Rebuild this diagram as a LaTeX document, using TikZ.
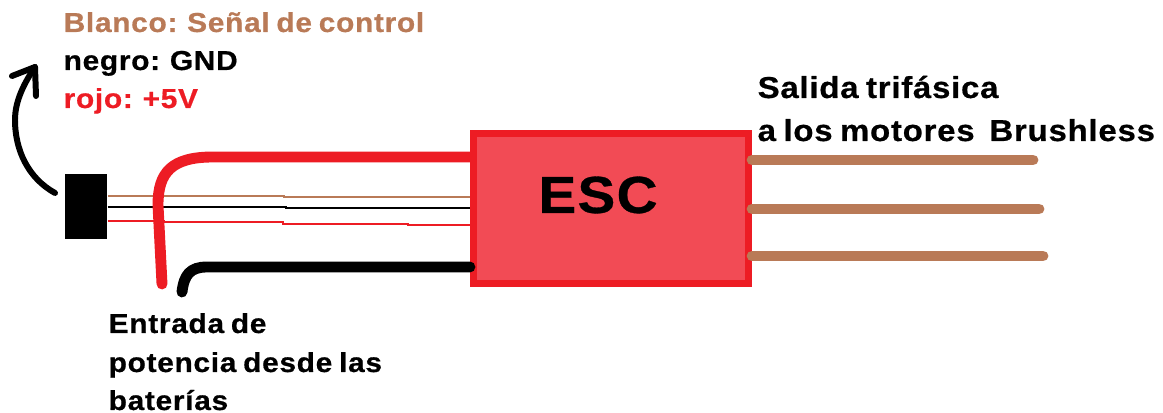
\documentclass[tikz,border=0pt]{standalone}
\usepackage{fontspec}
\setmainfont{Liberation Sans}[BoldFeatures={FakeBold=0.6,FakeStretch=1.09},LetterSpace=2.5,WordSpace=0.75]
\usepackage{tikz}
\definecolor{escred}{HTML}{ED1C24}
\definecolor{escfill}{HTML}{F24B55}
\definecolor{wirebrown}{HTML}{B97A57}
\tikzset{
  label/.style={anchor=base west, inner sep=0pt, font=\fontsize{7.8pt}{9pt}\bfseries},
  big label/.style={label, font=\fontsize{8.6pt}{10pt}\bfseries},
  thick wire/.style={line width=3.1pt, line cap=round},
  thin wire/.style={line width=0.45pt},
}

\begin{document}
\begin{tikzpicture}[x=0.01cm, y=-0.01cm]
\useasboundingbox (0,0) rectangle (1163,413);
\node[draw=escred, fill=escfill, line width=2pt, minimum width=2.75cm, minimum height=1.5cm, inner sep=0pt] (esc) at (611,208.5) {};
\node[fill=black, minimum width=0.42cm, minimum height=0.65cm, inner sep=0pt] (conn) at (86,206.5) {};
\node[anchor=center, inner sep=0pt, font=\fontsize{14.8pt}{18pt}\bfseries] (esclabel) at (598,195) {ESC};
% signal wires
\draw[thin wire, wirebrown] (conn.east |- 0,196) -- (284,196) -- (284,197) -- (esc.west |- 0,197);
\draw[thin wire, black] (conn.east |- 0,207) -- (286,207) -- (286,208) -- (esc.west |- 0,208);
\draw[thin wire, escred] (conn.east |- 0,221) -- (164,221) -- (164,222) -- (283,222) -- (283,224) -- (408,224) -- (408,225) -- (esc.west |- 0,225);
% power input
\coordinate (redend) at (162,284);
\coordinate (blackend) at (182,292);
\draw[thick wire, escred] (esc.west |- 0,157) -- (213,157) .. controls (172,157) and (158,172) .. (158,205) -- (redend);
\draw[thick wire, black] (esc.west |- 0,267) -- (207,267) .. controls (190,267) and (184,275) .. (blackend);
% motor outputs
\coordinate (out1) at (1033,160);
\coordinate (out2) at (1039,209);
\coordinate (out3) at (1043,256);
\draw[thick wire, wirebrown] (esc.east |- 0,160) -- (out1);
\draw[thick wire, wirebrown] (esc.east |- 0,209) -- (out2);
\draw[thick wire, wirebrown] (esc.east |- 0,256) -- (out3);
% arrow to the colour key
\coordinate (tailend) at (55,193);
\coordinate (tipend) at (35,67);
\draw[line width=1.7pt, line cap=round, line join=round, black] (tailend) .. controls (28,178) and (15,150) .. (15,120) .. controls (15,100) and (25,82) .. (tipend);
\draw[line width=1.7pt, line cap=round, line join=round, black] (12,76) -- (tipend) -- (36,96);
% texts
\node[label, text=wirebrown] (key1) at (63,32) {Blanco: Señal de control};
\node[label, text=black] (key2) at (63,70) {negro: GND};
\node[label, text=escred] (key3) at (63,108) {rojo: +5V};
\node[big label] (out1a) at (757,98) {Salida trifásica};
\node[big label] (out1b) at (757,141) {a los motores\ \ Brushless};
\node[label] (in1) at (108,333) {Entrada de};
\node[label] (in2) at (108,372) {potencia desde las};
\node[label] (in3) at (108,410) {baterías};
\end{tikzpicture}
\end{document}
